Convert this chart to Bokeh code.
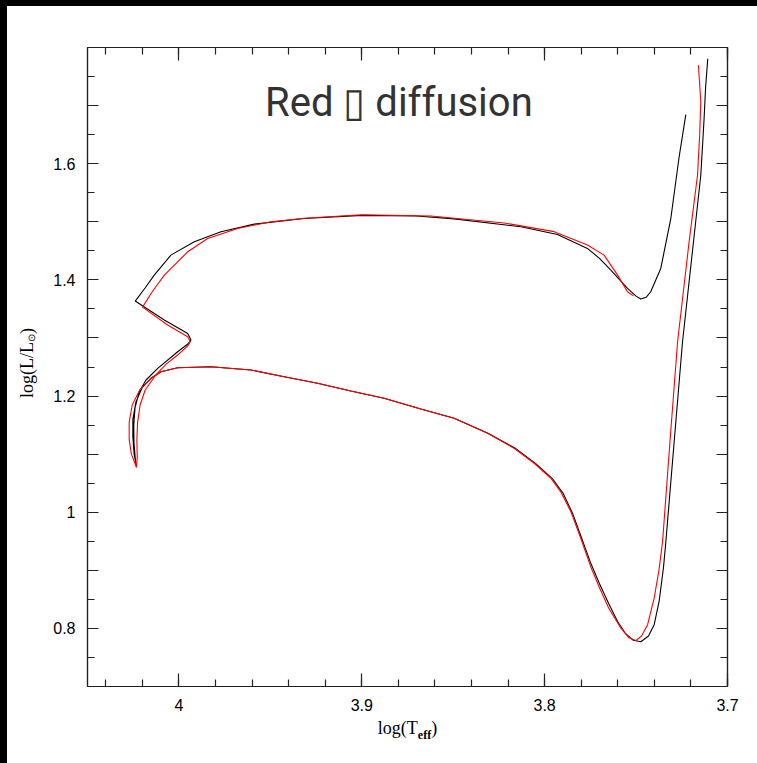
from bokeh.plotting import figure
from bokeh.models import Range1d, LinearAxis, FixedTicker, CustomJSTickFormatter, Label, Div
from bokeh.layouts import column, row
from bokeh.embed import file_html
from bokeh.resources import INLINE

# Evolutionary track without diffusion: log(Teff), log(L/Lsun)
black_logt = [3.7108, 3.7120, 3.7128, 3.7146, 3.7186, 3.7246, 3.7292, 3.7337, 3.7350, 3.7374,
              3.7401, 3.7432, 3.7474, 3.7515, 3.7560, 3.7601, 3.7650, 3.7700, 3.7750, 3.7795,
              3.7847, 3.7900, 3.7958, 3.8050, 3.8160, 3.8310, 3.8495, 3.8677, 3.8878, 3.9060,
              3.9242, 3.9424, 3.9606, 3.9825, 4.0007, 4.0098, 4.0153, 4.0200, 4.0235, 4.0252,
              4.0252, 4.0245, 4.0232,
              4.0238, 4.0246, 4.0247, 4.0240, 4.0217, 4.0180, 4.0116, 4.0007, 3.9950, 3.9934,
              3.9952, 4.0080, 4.0239,
              4.0185, 4.0135, 4.0044, 3.9916, 3.9770, 3.9588, 3.9315, 3.9000, 3.8700, 3.8495,
              3.8130, 3.7930, 3.7766, 3.7700, 3.7638, 3.7547, 3.7500, 3.7474, 3.7445, 3.7420,
              3.7365, 3.7310, 3.7265, 3.7228]
black_logl = [1.7807, 1.7300, 1.6776, 1.5800, 1.4655, 1.2935, 1.1200, 0.9496, 0.9050, 0.8464,
              0.8064, 0.7870, 0.7770, 0.7795, 0.7920, 0.8120, 0.8430, 0.8770, 0.9140, 0.9530,
              0.9980, 1.0330, 1.0580, 1.0840, 1.1100, 1.1360, 1.1617, 1.1778, 1.1962, 1.2088,
              1.2219, 1.2333, 1.2448, 1.2505, 1.2488, 1.2419, 1.2305, 1.2150, 1.1900, 1.1600,
              1.1300, 1.1000, 1.0780,
              1.0900, 1.1200, 1.1500, 1.1800, 1.2075, 1.2276, 1.2477, 1.2763, 1.2900, 1.2965,
              1.3078, 1.3308, 1.3635,
              1.3860, 1.4082, 1.4426, 1.4655, 1.4827, 1.4959, 1.5056, 1.5110, 1.5100, 1.5050,
              1.4913, 1.4780, 1.4541, 1.4370, 1.4168, 1.3852, 1.3720, 1.3670, 1.3700, 1.3795,
              1.4196, 1.5056, 1.6107, 1.6844]

# Evolutionary track with diffusion: log(Teff), log(L/Lsun)
red_logt = [3.7159, 3.7146, 3.7152, 3.7164, 3.7210, 3.7273, 3.7315, 3.7355, 3.7375, 3.7401,
            3.7437, 3.7470, 3.7501, 3.7540, 3.7583, 3.7650, 3.7700, 3.7750, 3.7800, 3.7855,
            3.7910, 3.7966, 3.8057, 3.8167, 3.8312, 3.8495, 3.8677, 3.8878, 3.9060, 3.9242,
            3.9424, 3.9606, 3.9825, 4.0007, 4.0098, 4.0153, 4.0215, 4.0255, 4.0272, 4.0272,
            4.0260, 4.0232,
            4.0228, 4.0230, 4.0226, 4.0212, 4.0185, 4.0130, 4.0070, 4.0007, 3.9950, 3.9938,
            3.9952, 4.0062, 4.0199,
            4.0145, 4.0080, 3.9952, 3.9843, 3.9679, 3.9497, 3.9315, 3.9000, 3.8622, 3.8221,
            3.7948, 3.7766, 3.7675, 3.7601, 3.7547, 3.7515]
red_logl = [1.7694, 1.7066, 1.6500, 1.5800, 1.4655, 1.2935, 1.1200, 0.9496, 0.9000, 0.8521,
            0.8064, 0.7870, 0.7790, 0.7840, 0.8005, 0.8350, 0.8700, 0.9080, 0.9530, 1.0000,
            1.0340, 1.0585, 1.0843, 1.1101, 1.1359, 1.1617, 1.1778, 1.1962, 1.2088, 1.2219,
            1.2333, 1.2448, 1.2505, 1.2488, 1.2419, 1.2305, 1.2100, 1.1850, 1.1550, 1.1250,
            1.1000, 1.0770,
            1.0950, 1.1250, 1.1550, 1.1850, 1.2100, 1.2350, 1.2550, 1.2706, 1.2870, 1.2935,
            1.3022, 1.3222, 1.3531,
            1.3800, 1.4082, 1.4483, 1.4713, 1.4885, 1.4999, 1.5060, 1.5120, 1.5100, 1.4980,
            1.4830, 1.4600, 1.4426, 1.4082, 1.3795, 1.3725]

# Axis ticks
x_major = [4.0, 3.9, 3.8, 3.7]
x_minor = [4.04, 4.02, 4.00, 3.98, 3.96, 3.94, 3.92, 3.90, 3.88, 3.86, 3.84, 3.82,
           3.80, 3.78, 3.76, 3.74, 3.72, 3.70]
y_major = [0.7, 0.8, 0.9, 1.0, 1.1, 1.2, 1.3, 1.4, 1.5, 1.6, 1.7]
y_minor = [0.75, 0.85, 0.95, 1.05, 1.15, 1.25, 1.35, 1.45, 1.55, 1.65, 1.75]

title_text = "Red \u25af diffusion"

INK = "#222222"
NO_MARGIN = (0, 0, 0, 0)

p = figure(width=710, height=713,
           x_range=Range1d(4.05, 3.70), y_range=Range1d(0.70, 1.80),
           output_backend="svg", toolbar_location=None,
           x_axis_location=None, y_axis_location=None,
           min_border_left=40, min_border_right=30,
           min_border_top=41, min_border_bottom=33,
           background_fill_color="white", border_fill_color="white")
p.margin = NO_MARGIN
p.grid.visible = False
p.outline_line_color = INK
p.outline_line_width = 1.2

x_ticker = FixedTicker(ticks=x_major, minor_ticks=x_minor)
y_ticker = FixedTicker(ticks=y_major, minor_ticks=y_minor)

x_fmt = CustomJSTickFormatter(code="return String(Math.round(tick * 10) / 10);")
y_fmt = CustomJSTickFormatter(
    code="const v = Math.round(tick * 10); return (v % 2 === 0) ? String(v / 10) : '';")
blank_fmt = CustomJSTickFormatter(code="return '';")


def make_axis(ticker, formatter, major_len, minor_len, standoff):
    return LinearAxis(
        ticker=ticker, formatter=formatter,
        major_tick_in=major_len, major_tick_out=0,
        minor_tick_in=minor_len, minor_tick_out=0,
        axis_line_color=INK, axis_line_width=1.2,
        major_tick_line_color=INK, major_tick_line_width=1.2,
        minor_tick_line_color=INK, minor_tick_line_width=1.2,
        major_label_text_font="Liberation Sans",
        major_label_text_font_size="16px",
        major_label_text_color="black",
        major_label_standoff=standoff,
    )


p.add_layout(make_axis(x_ticker, x_fmt, 13, 7, 12), "below")
p.add_layout(make_axis(x_ticker, blank_fmt, 13, 7, 0), "above")
p.add_layout(make_axis(y_ticker, y_fmt, 11, 7, 12), "left")
p.add_layout(make_axis(y_ticker, blank_fmt, 11, 7, 0), "right")

p.line(black_logt, black_logl, line_color="black", line_width=1.1)
p.line(red_logt, red_logl, line_color="red", line_width=1.1)

p.add_layout(Label(x=3.8797, y=1.706, text=title_text, text_font="Roboto",
                   text_font_size="40px", text_color="#333333",
                   text_align="center", text_baseline="middle"))

SERIF = "font-family:'Liberation Serif','Times New Roman',serif;color:black;"

# y-axis title, reading bottom to top
ylabel = Div(
    text=("<div style=\"width:30px;height:714px;padding-left:10px;display:flex;"
          "align-items:center;justify-content:center;\">"
          "<span style=\"writing-mode:vertical-rl;transform:rotate(180deg);white-space:nowrap;"
          + SERIF + "font-size:18px;line-height:1;\">log(L/L"
          "<sub style=\"font-size:10px;\">\u2299</sub>)</span></div>"),
    width=40, height=757, margin=NO_MARGIN, styles={"background-color": "white"})

# x-axis title
xlabel = Div(
    text=("<div style=\"width:710px;box-sizing:border-box;padding-left:11px;text-align:center;"
          + SERIF + "font-size:18px;line-height:18px;white-space:nowrap;\">log(T"
          "<sub style=\"font-size:12px;font-weight:bold;line-height:0;\">eff</sub>)</div>"),
    width=710, height=44, margin=NO_MARGIN, styles={"background-color": "white"})

# dark surround along the top and left edges of the page
top_bar = Div(text="", width=757, height=6, margin=NO_MARGIN,
              styles={"background-color": "black"})
left_bar = Div(text="", width=7, height=757, margin=NO_MARGIN,
               styles={"background-color": "black"})

body = row(left_bar, ylabel, column(p, xlabel, margin=NO_MARGIN), margin=NO_MARGIN)
root = column(top_bar, body, margin=NO_MARGIN, styles={"background-color": "white"})

open("out.html", "w").write(file_html(root, INLINE))
